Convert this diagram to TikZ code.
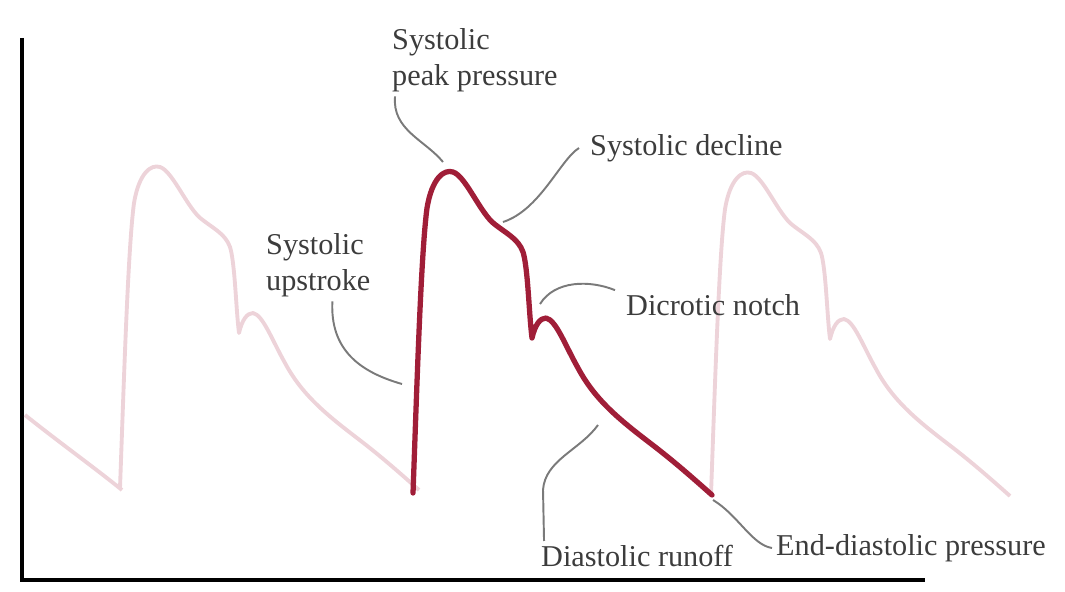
\documentclass[tikz,border=0pt]{standalone}
\usepackage{fontspec}
\setmainfont{Liberation Serif}
\usepackage{tikz}
\definecolor{wavered}{HTML}{A01E38}
\definecolor{wavepink}{HTML}{EDD3D9}
\definecolor{leadgray}{HTML}{7A7A7A}
\definecolor{labelgray}{HTML}{3C3C3C}

% one beat, drawn from the foot of the upstroke
\tikzset{beat/.pic={
  \draw[pic actions] (0,0) .. controls (4,-110) and (8,-240) .. (14,-285)
    .. controls (19,-315) and (31,-324) .. (40,-321)
    .. controls (52,-317) and (65,-285) .. (79,-271)
    .. controls (92,-260) and (105,-255) .. (110,-241)
    .. controls (115,-225) and (116,-178) .. (119,-155)
    .. controls (122,-168) and (127,-175) .. (133,-175)
    .. controls (143,-173) and (152,-148) .. (165,-125)
    .. controls (182,-93) and (207,-73) .. (237,-50)
    .. controls (262,-31) and (282,-13) .. (299,2);
}}

\begin{document}
\begin{tikzpicture}[x=0.01cm,y=-0.01cm,
  lbl/.style={font=\fontsize{8.6}{10.4}\selectfont,text=labelgray,align=left,inner sep=1pt},
  lead/.style={draw=leadgray,line width=.55pt},
  faint/.style={draw=wavepink,line width=1.1pt,line join=round},
  wave/.style={draw=wavered,line width=1.5pt,line join=round,line cap=round},
  axis/.style={line width=.9pt}]
  \useasboundingbox (0,0) rectangle (1065,591);
  % axes
  \coordinate (top) at (22,38);
  \coordinate (origin) at (22,580);
  \coordinate (right) at (925,580);
  \draw[axis] (top) -- (origin) -- (right);
  % pale neighbouring beats
  \draw[faint] (25,415) .. controls (60,443) and (95,468) .. (122,490);
  \foreach \bx/\by in {120/488,711/494}
    \pic[faint] at (\bx,\by) {beat};
  \pic[wave] at (413,493) {beat};
  % points on the red trace
  \coordinate (pk) at (443,162);
  \coordinate (dec) at (503,222);
  \coordinate (ups) at (402,384);
  \coordinate (ntch) at (540,304);
  \coordinate (run) at (598,425);
  \coordinate (edp) at (713,500);
  % labels
  \node[lbl,anchor=north west] (peaklbl) at (388,24) {Systolic\\peak pressure};
  \node[lbl,anchor=west] (declbl) at (586,148) {Systolic decline};
  \node[lbl,anchor=north west] (upslbl) at (262,229) {Systolic\\upstroke};
  \node[lbl,anchor=west] (notchlbl) at (622,305) {Dicrotic notch};
  \node[lbl,anchor=west] (runlbl) at (537,556) {Diastolic runoff};
  \node[lbl,anchor=west] (edplbl) at (772,548) {End-diastolic pressure};
  % leaders
  \draw[lead] ([xshift=2pt]peaklbl.south west) .. controls (392,130) and (425,140) .. (pk);
  \draw[lead] ([xshift=-2pt]declbl.west) .. controls (560,160) and (540,210) .. (dec);
  \draw[lead] ([xshift=4pt]upslbl.south) .. controls (330,350) and (360,372) .. (ups);
  \draw[lead] ([xshift=-2pt]notchlbl.north west) .. controls (590,280) and (555,280) .. (ntch);
  \draw[lead] ([xshift=2pt]runlbl.north west) -- (543,490) .. controls (545,460) and (580,450) .. (run);
  \draw[lead] (edp) .. controls (738,515) and (752,545) .. (edplbl.west);
\end{tikzpicture}
\end{document}
